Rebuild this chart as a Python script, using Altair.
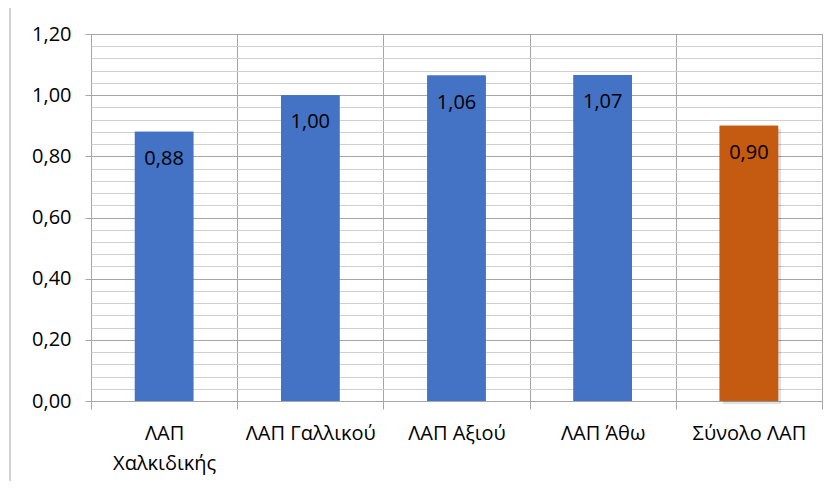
import altair as alt
import pandas as pd

categories = ["ΛΑΠ Χαλκιδικής", "ΛΑΠ Γαλλικού", "ΛΑΠ Αξιού", "ΛΑΠ Άθω", "Σύνολο ΛΑΠ"]
values = [0.88, 1.00, 1.064, 1.066, 0.90]
labels = ["0,88", "1,00", "1,06", "1,07", "0,90"]
colors = ["#4472C4", "#4472C4", "#4472C4", "#4472C4", "#C55A11"]
y_grid = [round(i * 0.04, 2) for i in range(31)]

df = pd.DataFrame({"cat": categories, "val": values, "lab": labels, "col": colors})

FONT = "Open Sans"
major_test = "abs(datum.value * 5 - round(datum.value * 5)) < 0.001"

x_enc = alt.X(
    "cat:N", sort=categories, title=None,
    scale=alt.Scale(paddingInner=0, paddingOuter=0),
    axis=alt.Axis(
        labelAngle=0, tickBand="extent", grid=True, gridColor="#a6a6a6",
        tickColor="#a6a6a6", tickSize=8, domain=False, labelPadding=14,
        labelFont=FONT, labelFontSize=20, labelColor="#000000",
        labelExpr="datum.label == 'ΛΑΠ Χαλκιδικής' ? ['ΛΑΠ', 'Χαλκιδικής'] : datum.label",
        labelLineHeight=30,
    ),
)
y_enc = alt.Y(
    "val:Q", title=None,
    scale=alt.Scale(domain=[0, 1.2], nice=False),
    axis=alt.Axis(
        values=y_grid, tickCount=100, labelOverlap=False, domain=False,
        gridColor={"condition": {"test": major_test, "value": "#a6a6a6"}, "value": "#d0d0d0"},
        tickOpacity={"condition": {"test": major_test, "value": 1}, "value": 0},
        tickColor="#a6a6a6", tickSize=6, labelPadding=14,
        labelExpr=f"({major_test}) ? replace(format(datum.value, '.2f'), '.', ',') : ''",
        labelFont=FONT, labelFontSize=20, labelColor="#000000",
    ),
)

shadow = alt.Chart(df[df["col"] == "#C55A11"]).mark_bar(
    width=alt.RelativeBandSize(0.4), color="#000000", opacity=0.12, xOffset=3, yOffset=3
).encode(x=alt.X("cat:N", sort=categories), y=alt.Y("val:Q"))

bars = alt.Chart(df).mark_bar(width=alt.RelativeBandSize(0.4)).encode(
    x=x_enc, y=y_enc, color=alt.Color("col:N", scale=None)
)
text = alt.Chart(df).mark_text(
    baseline="top", dy=17, font=FONT, fontSize=20, color="#000000"
).encode(x=alt.X("cat:N", sort=categories), y=alt.Y("val:Q"), text="lab:N")

border = alt.Chart(pd.DataFrame({"a": [0]})).mark_rule(color="#a6a6a6", strokeWidth=1).encode(
    x=alt.value(-81), y=alt.value(-30), y2=alt.value(460)
)

chart = alt.layer(border, bars, shadow, bars, text).properties(
    width=731, height=367,
    autosize=alt.AutoSizeParams(type="none"),
    padding={"left": 83, "top": 26, "right": 8, "bottom": 80},
).configure_view(stroke=None).configure(background="white")

chart.save("out.html", embed_options={"renderer": "svg", "actions": False})
